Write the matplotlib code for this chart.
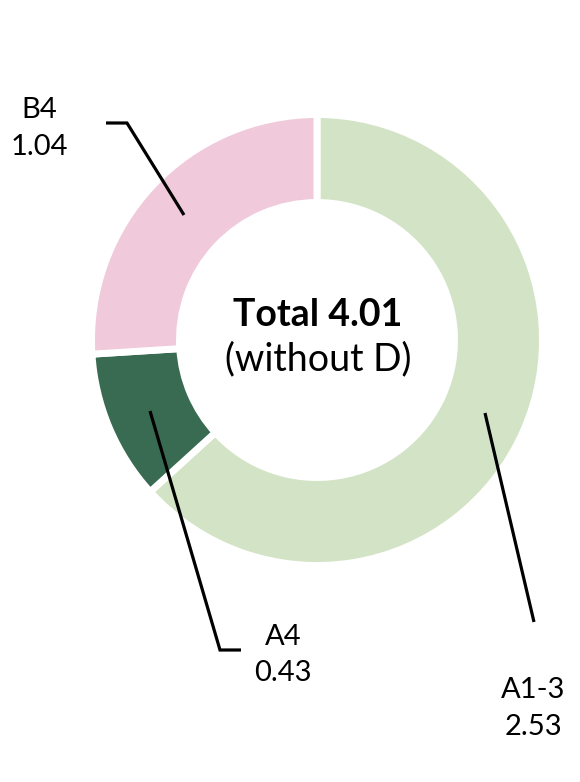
import matplotlib
matplotlib.use("Agg")
import matplotlib.pyplot as plt

categories = ["A1-3", "A4", "B4"]
values = [2.53, 0.43, 1.04]
colors = ["#d3e3c5", "#386b52", "#f0c9da"]
value_labels = ["2.53", "0.43", "1.04"]
total_title = "Total 4.01"
subtitle = "(without D)"

W, H = 580, 782
fig = plt.figure(figsize=(W / 100, H / 100), dpi=100)
ax = fig.add_axes([0, 0, 1, 1])

cx, cy = 317, H - 340
R = 225.5
ring = 88
ax.pie(values, colors=colors, startangle=90, counterclock=False,
       radius=R, center=(cx, cy),
       wedgeprops=dict(width=ring, edgecolor="white", linewidth=5))
ax.set_xlim(0, W)
ax.set_ylim(0, H)
ax.set_aspect("equal")
ax.axis("off")

font = "Lato"
lw = 2.3

# center text
ax.text(318, H - 326, total_title, ha="center", va="baseline", fontsize=27,
        fontweight="bold", family=font)
ax.text(318, H - 370, subtitle, ha="center", va="baseline", fontsize=27,
        family=font)

# leader lines (pixel layout)
def leader(pts):
    xs = [p[0] for p in pts]
    ys = [H - p[1] for p in pts]
    ax.plot(xs, ys, color="black", lw=lw, solid_capstyle="butt",
            solid_joinstyle="miter")

leader([(106, 123), (127, 123), (184, 215)])
leader([(150, 411), (220, 650), (241, 650)])
leader([(485, 413), (534, 622)])

# labels
label_pos = {"B4": (39, 118, 155), "A4": (283, 645, 681), "A1-3": (533, 698, 735)}
for cat, val in zip(categories, value_labels):
    x, y1, y2 = label_pos[cat]
    ax.text(x, H - y1, cat, ha="center", va="baseline", fontsize=21, family=font)
    ax.text(x, H - y2, val, ha="center", va="baseline", fontsize=21, family=font)

fig.savefig("out.png", dpi=100, facecolor="white")
